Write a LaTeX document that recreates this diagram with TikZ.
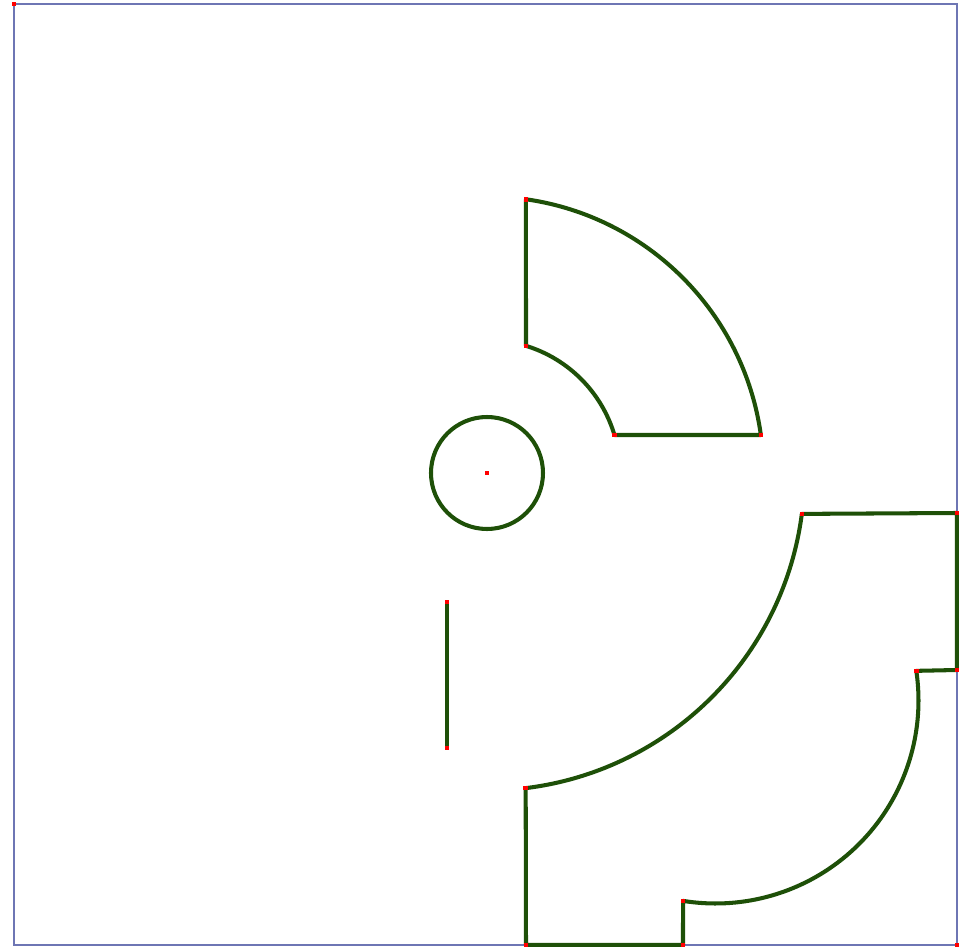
\documentclass[tikz,border=0pt]{standalone}
\usepackage{tikz}
\usetikzlibrary{calc}

\definecolor{wallgreen}{RGB}{30,80,8}
\definecolor{framblue}{RGB}{110,118,180}

\begin{document}
\begin{tikzpicture}[
  x=0.01cm, y=0.01cm,
  wall/.style={draw=wallgreen, line width=1.15pt, line join=round},
  frame/.style={draw=framblue, line width=0.6pt},
  vdot/.style={fill=red, inner sep=0pt, minimum size=1.3pt, rectangle}
]
  \useasboundingbox (0,0) rectangle (959,947);

  % Outer frame
  \coordinate (fTL) at (14,943);
  \coordinate (fBR) at (957,2);
  \draw[frame] (fTL) rectangle (fBR);

  % Round column (sector arcs share its centre)
  \coordinate (col) at (487,474);
  \draw[wall] (col) circle[radius=56];

  % Upper sector
  \coordinate (sA) at ($(col)+(81.9:276.5)$);
  \coordinate (sB) at ($(col)+(72.95:133)$);
  \coordinate (sC) at ($(col)+(16.6:133)$);
  \coordinate (sD) at ($(col)+(7.9:276.5)$);
  \draw[wall] (sA) -- (sB) arc[start angle=72.95, end angle=16.6, radius=133]
    -- (sD) arc[start angle=7.9, end angle=81.9, radius=276.5];

  % Lower room
  \coordinate (arcc) at (715.5,246.5);
  \coordinate (rA) at (526,2);
  \coordinate (rB) at ($(col)+(-83:317.5)$);
  \coordinate (rC) at ($(col)+(-7.4:317.5)$);
  \coordinate (rD) at (957,434);
  \coordinate (rE) at (957,277);
  \coordinate (rF) at ($(arcc)+(8.4:203)$);
  \coordinate (rG) at ($(arcc)+(-99.2:203)$);
  \coordinate (rH) at (683,2);
  \draw[wall] (rA) -- (rB) arc[start angle=-83, end angle=-7.4, radius=317.5]
    -- (rD) -- (rE) -- (rF) arc[start angle=8.4, end angle=-99.2, radius=203]
    -- (rH) -- cycle;

  % Single wall
  \coordinate (lA) at (447,345);
  \coordinate (lB) at (447,199);
  \draw[wall] (lA) -- (lB);

  % Vertex markers
  \foreach \p in {fTL,fBR,col,sA,sB,sC,sD,rA,rB,rC,rD,rE,rF,rG,rH,lA,lB}
    \node[vdot] (m\p) at (\p) {};
\end{tikzpicture}
\end{document}
